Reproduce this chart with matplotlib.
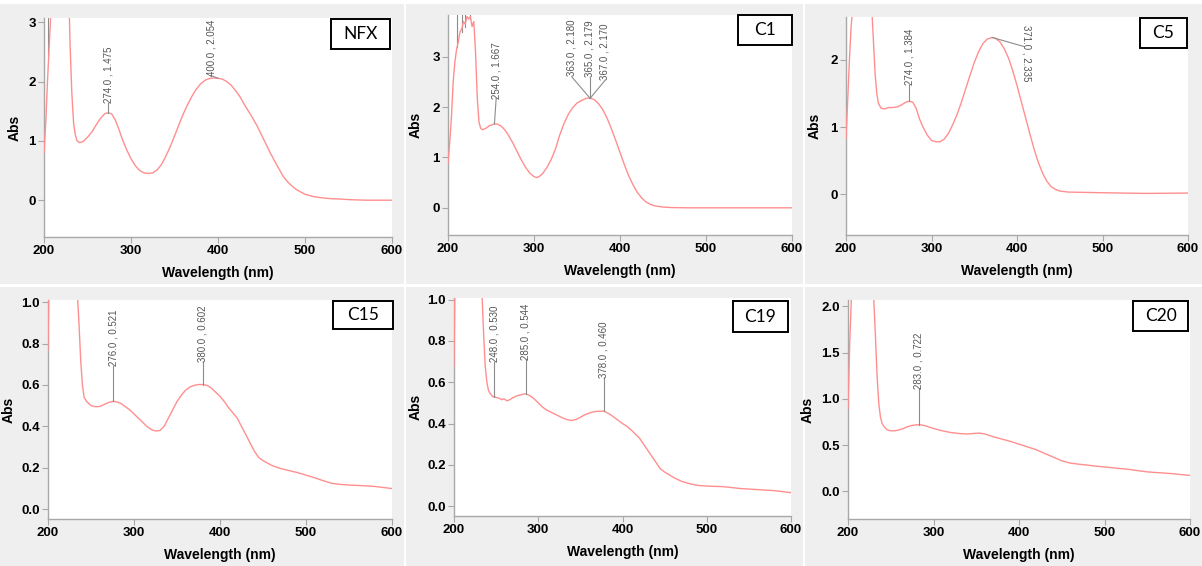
import matplotlib
matplotlib.use("Agg")
import matplotlib.pyplot as plt
from matplotlib.patches import Rectangle
from matplotlib import font_manager

# ---------------- data ----------------
nfx_wl = [200, 202, 204, 206, 208, 229, 230, 232, 234, 236, 238, 241, 245, 250, 255, 260, 265, 270, 274,
          278, 282, 286, 290, 295, 300, 305, 310, 315, 320, 325, 330, 335, 340, 345, 350, 355, 360, 365,
          370, 375, 380, 385, 390, 395, 400, 405, 410, 415, 420, 425, 430, 435, 440, 445, 450, 455, 460,
          465, 470, 475, 480, 485, 490, 495, 500, 510, 520, 530, 540, 550, 560, 570, 580, 600]
nfx_abs = [0.80, 1.3, 2.0, 2.6, 3.2, 3.2, 2.6, 1.8, 1.3, 1.1, 1.0, 0.97, 0.99, 1.06, 1.15, 1.27, 1.38, 1.46, 1.475,
           1.45, 1.35, 1.20, 1.03, 0.85, 0.70, 0.58, 0.50, 0.46, 0.45, 0.46, 0.51, 0.60, 0.74, 0.90, 1.08, 1.27,
           1.45, 1.61, 1.75, 1.87, 1.96, 2.02, 2.05, 2.06, 2.054, 2.04, 2.00, 1.94, 1.85, 1.75, 1.62, 1.50, 1.38,
           1.25, 1.10, 0.95, 0.80, 0.66, 0.53, 0.40, 0.31, 0.24, 0.18, 0.14, 0.10, 0.06, 0.04, 0.025, 0.02,
           0.01, 0.005, 0.0, 0.0, 0.0]

c1_wl = [200, 202, 204, 206, 208, 210, 212, 214, 216, 218, 220, 222, 224, 226, 228, 230, 232, 234, 236, 238,
         240, 244, 248, 254, 258, 262, 266, 270, 275, 280, 285, 290, 295, 300, 303, 306, 310, 315, 320, 325,
         330, 335, 340, 345, 350, 355, 360, 363, 365, 367, 370, 375, 380, 385, 390, 395, 400, 405, 410, 415,
         420, 425, 430, 435, 440, 450, 460, 480, 600]
c1_abs = [0.88, 1.3, 1.8, 2.5, 2.9, 3.15, 3.3, 3.5, 3.55, 3.7, 3.65, 3.8, 3.75, 3.8, 3.6, 3.7, 3.1, 2.2, 1.7, 1.58,
          1.55, 1.58, 1.63, 1.667, 1.66, 1.62, 1.55, 1.45, 1.30, 1.13, 0.96, 0.81, 0.69, 0.62, 0.60, 0.62, 0.68,
          0.80, 0.96, 1.17, 1.45, 1.68, 1.86, 1.99, 2.08, 2.13, 2.17, 2.18, 2.179, 2.17, 2.15, 2.07, 1.95, 1.78,
          1.57, 1.34, 1.10, 0.86, 0.64, 0.46, 0.31, 0.20, 0.12, 0.07, 0.04, 0.015, 0.005, 0.0, 0.0]

c5_wl = [200, 202, 204, 206, 208, 230, 232, 234, 236, 238, 241, 245, 250, 255, 260, 265, 270, 274, 278, 282,
         286, 290, 295, 300, 305, 310, 315, 320, 325, 330, 335, 340, 345, 350, 355, 360, 365, 371, 375, 380,
         385, 390, 395, 400, 405, 410, 415, 420, 425, 430, 435, 440, 445, 450, 460, 480, 500, 550, 600]
c5_abs = [0.83, 1.4, 2.0, 2.5, 2.8, 2.8, 2.3, 1.8, 1.5, 1.35, 1.28, 1.27, 1.29, 1.29, 1.30, 1.33, 1.37, 1.384,
          1.37, 1.28, 1.12, 1.00, 0.88, 0.80, 0.78, 0.78, 0.82, 0.91, 1.04, 1.19, 1.37, 1.57, 1.77, 1.96, 2.12,
          2.24, 2.31, 2.335, 2.32, 2.27, 2.17, 2.03, 1.84, 1.62, 1.38, 1.14, 0.90, 0.67, 0.47, 0.31, 0.19, 0.11,
          0.07, 0.045, 0.03, 0.025, 0.02, 0.01, 0.015]

c15_wl = [200, 201, 234, 236, 238, 240, 242, 245, 250, 255, 260, 265, 270, 276, 280, 285, 290, 295, 300, 305,
          310, 315, 320, 325, 330, 335, 340, 345, 350, 355, 360, 365, 370, 375, 380, 385, 390, 395, 400, 405,
          410, 415, 420, 425, 430, 435, 440, 445, 450, 460, 470, 480, 490, 500, 510, 520, 530, 540, 550, 560,
          570, 580, 590, 600]
c15_abs = [0.77, 1.05, 1.05, 0.90, 0.72, 0.60, 0.54, 0.52, 0.50, 0.495, 0.496, 0.505, 0.515, 0.521, 0.518, 0.51,
           0.495, 0.48, 0.46, 0.44, 0.42, 0.40, 0.385, 0.378, 0.38, 0.40, 0.44, 0.48, 0.52, 0.55, 0.575, 0.59,
           0.598, 0.602, 0.602, 0.598, 0.585, 0.565, 0.545, 0.52, 0.49, 0.465, 0.44, 0.40, 0.36, 0.32, 0.28,
           0.25, 0.235, 0.212, 0.197, 0.187, 0.177, 0.165, 0.152, 0.138, 0.125, 0.12, 0.117, 0.115, 0.113,
           0.11, 0.105, 0.10]

c19_wl = [200, 201, 233, 235, 237, 239, 241, 243, 246, 248, 251, 254, 257, 259, 261, 263, 266, 270, 275, 280,
          285, 290, 295, 300, 305, 310, 315, 320, 325, 330, 335, 340, 345, 350, 355, 360, 365, 370, 378, 385,
          390, 395, 400, 405, 410, 415, 420, 425, 430, 435, 440, 445, 450, 460, 470, 480, 490, 500, 520, 540,
          560, 580, 600]
c19_abs = [0.68, 1.05, 1.05, 0.85, 0.68, 0.60, 0.56, 0.545, 0.53, 0.53, 0.525, 0.522, 0.515, 0.52, 0.515, 0.51,
           0.515, 0.525, 0.535, 0.54, 0.544, 0.535, 0.52, 0.50, 0.48, 0.465, 0.455, 0.445, 0.435, 0.425, 0.418,
           0.415, 0.42, 0.43, 0.442, 0.45, 0.456, 0.459, 0.460, 0.445, 0.43, 0.415, 0.40, 0.387, 0.37, 0.35,
           0.33, 0.30, 0.27, 0.24, 0.21, 0.18, 0.165, 0.14, 0.12, 0.108, 0.10, 0.097, 0.094, 0.085, 0.08,
           0.075, 0.065]

c20_wl = [200, 202, 204, 230, 232, 234, 236, 238, 240, 243, 246, 250, 255, 260, 265, 270, 275, 283, 290, 295,
          300, 310, 320, 330, 340, 350, 355, 360, 370, 380, 390, 400, 410, 420, 430, 440, 450, 460, 470, 480,
          490, 500, 510, 520, 530, 540, 550, 560, 570, 580, 590, 600]
c20_abs = [0.90, 1.6, 2.1, 2.1, 1.7, 1.25, 0.95, 0.80, 0.73, 0.69, 0.665, 0.655, 0.655, 0.665, 0.68, 0.70, 0.713,
           0.722, 0.71, 0.695, 0.68, 0.655, 0.636, 0.625, 0.62, 0.628, 0.628, 0.62, 0.59, 0.565, 0.54, 0.51,
           0.48, 0.45, 0.41, 0.37, 0.33, 0.305, 0.293, 0.283, 0.272, 0.263, 0.254, 0.245, 0.235, 0.222, 0.21,
           0.203, 0.197, 0.19, 0.18, 0.172]

panel_names = ["NFX", "C1", "C5", "C15", "C19", "C20"]
x_ticks = [200, 300, 400, 500, 600]
y_ticks = [[0, 1, 2, 3], [0, 1, 2, 3], [0, 1, 2],
           [0.0, 0.2, 0.4, 0.6, 0.8, 1.0], [0.0, 0.2, 0.4, 0.6, 0.8, 1.0], [0.0, 0.5, 1.0, 1.5, 2.0]]
y_ticklabels = [["0", "1", "2", "3"], ["0", "1", "2", "3"], ["0", "1", "2"],
                ["0.0", "0.2", "0.4", "0.6", "0.8", "1.0"], ["0.0", "0.2", "0.4", "0.6", "0.8", "1.0"],
                ["0.0", "0.5", "1.0", "1.5", "2.0"]]

peaks = [
    [(274.0, 1.475, "274.0 , 1.475"), (400.0, 2.054, "400.0 , 2.054")],
    [(254.0, 1.667, "254.0 , 1.667"), (365.0, 2.180, "363.0 , 2.180"), (365.0, 2.179, "365.0 , 2.179"),
     (365.0, 2.170, "367.0 , 2.170")],
    [(274.0, 1.384, "274.0 , 1.384"), (371.0, 2.335, "371.0 , 2.335")],
    [(276.0, 0.521, "276.0 , 0.521"), (380.0, 0.602, "380.0 , 0.602")],
    [(248.0, 0.530, "248.0 , 0.530"), (285.0, 0.544, "285.0 , 0.544"), (378.0, 0.460, "378.0 , 0.460")],
    [(283.0, 0.722, "283.0 , 0.722")],
]
clipped_marks = [[(205, 2.45)], [(211, 3.2), (216, 3.5), (220, 3.6), (226, 3.75)], [], [], [], []]

# ---------------- layout / style ----------------
W, H = 1202, 566
label_pos = [
    [(274, 1.63, 90), (392, 2.10, 90)],
    [(256, 2.17, 90), (344, 2.62, 90), (365, 2.60, 90), (382, 2.54, 90)],
    [(274, 1.63, 90), (411, 2.52, -90)],
    [(276, 0.69, 90), (380, 0.713, 90)],
    [(248, 0.70, 90), (285, 0.71, 90), (378, 0.62, 90)],
    [(283, 1.11, 90)],
]
connector_end = [
    [(274, 1.63), (392, 2.10)],
    [(256, 2.17), (344, 2.60), (365, 2.58), (382, 2.52)],
    [(274, 1.63), (408, 2.20)],
    [(276, 0.69), (380, 0.713)],
    [(248, 0.70), (285, 0.71), (378, 0.62)],
    [(283, 1.11)],
]
ylims = [(-0.62, 3.07), (-0.54, 3.83), (-0.61, 2.64), (-0.047, 1.01), (-0.048, 1.008), (-0.30, 2.07)]
axes_px = [(44, 18, 392, 237), (448, 15, 792, 235), (846, 17, 1188, 235),
           (48, 300, 392, 519), (454, 298, 791, 516), (848, 300, 1190, 519)]
abs_label_px = [22, 423, 822, 16, 423, 815]
box_px = [(331, 19, 390, 49), (738, 15, 792, 45), (1140, 18, 1187, 48),
          (333, 301, 393, 329), (733, 301, 788, 332), (1133, 301, 1188, 331)]
panel_px = [(0, 4, 404, 284), (406, 4, 803, 284), (805, 4, 1202, 284),
            (0, 287, 404, 566), (406, 287, 803, 566), (805, 287, 1202, 566)]

curve_color = "#ff8f8f"
spine_color = "#a8a8a8"
ann_color = "#8c8c8c"

_names = {f.name for f in font_manager.fontManager.ttflist}
if "Liberation Sans Narrow" in _names:
    tick_font = ["Liberation Sans Narrow", "DejaVu Sans"]
    tick_size, xlab_size = 10, 10.5
else:
    tick_font = ["Liberation Sans", "DejaVu Sans"]
    tick_size, xlab_size = 9.5, 10

series = [(nfx_wl, nfx_abs), (c1_wl, c1_abs), (c5_wl, c5_abs),
          (c15_wl, c15_abs), (c19_wl, c19_abs), (c20_wl, c20_abs)]

fig = plt.figure(figsize=(W / 100, H / 100), dpi=100, facecolor="white")

for (x0, y0, x1, y1) in panel_px:
    fig.patches.append(Rectangle((x0 / W, 1 - y1 / H), (x1 - x0) / W, (y1 - y0) / H,
                                 transform=fig.transFigure, facecolor="#efefef", edgecolor="none",
                                 zorder=-5))

for i in range(6):
    x0, y0, x1, y1 = axes_px[i]
    ax = fig.add_axes([x0 / W, 1 - y1 / H, (x1 - x0) / W, (y1 - y0) / H])
    ax.set_zorder(1)
    ax.set_facecolor("white")
    wl, ab = series[i]
    ax.plot(wl, ab, color=curve_color, lw=1.0, zorder=3)
    ax.set_xlim(200, 600)
    ax.set_ylim(*ylims[i])
    ax.set_xticks(x_ticks)
    ax.set_xticklabels([str(t) for t in x_ticks], fontfamily=tick_font, fontweight="bold", fontsize=tick_size)
    ax.set_yticks(y_ticks[i])
    ax.set_yticklabels(y_ticklabels[i], fontfamily=tick_font, fontweight="bold", fontsize=tick_size)
    for s in ["top", "right"]:
        ax.spines[s].set_visible(False)
    for s in ["left", "bottom"]:
        ax.spines[s].set_color(spine_color)
        ax.spines[s].set_linewidth(1.0)
    ax.tick_params(length=4, width=0.8, color=spine_color, pad=2)
    ax.set_xlabel("Wavelength (nm)", fontfamily=tick_font, fontweight="bold", fontsize=xlab_size, labelpad=6)
    ax.set_ylabel("Abs", fontfamily=["Liberation Sans", "DejaVu Sans"], fontweight="bold", fontsize=10)
    ax.yaxis.set_label_coords((abs_label_px[i] - x0) / (x1 - x0), 0.5)

    for (mx, my) in clipped_marks[i]:
        ax.plot([mx, mx], [my, ylims[i][1] + 1], color=ann_color, lw=0.8, zorder=2)

    for j, (px, py, txt) in enumerate(peaks[i]):
        ex, ey = connector_end[i][j]
        tx, ty, rot = label_pos[i][j]
        ax.plot([px, ex], [py, ey], color=ann_color, lw=0.8, zorder=4, clip_on=False)
        ax.text(tx, ty, txt, rotation=rot, ha="center", va="bottom" if rot == 90 else "top",
                fontsize=7, color="#555555", fontfamily=["Liberation Sans", "DejaVu Sans"], zorder=5)

    bx0, by0, bx1, by1 = box_px[i]
    fig.patches.append(Rectangle((bx0 / W, 1 - by1 / H), (bx1 - bx0) / W, (by1 - by0) / H,
                                 transform=fig.transFigure, facecolor="white", edgecolor="black",
                                 lw=1.4, zorder=10))
    fig.text((bx0 + bx1) / 2 / W, 1 - (by0 + by1) / 2 / H, panel_names[i], ha="center", va="center",
             fontsize=12.5, fontfamily=["Lato", "DejaVu Sans"], zorder=11)

fig.savefig("out.png", dpi=100, facecolor="white")
